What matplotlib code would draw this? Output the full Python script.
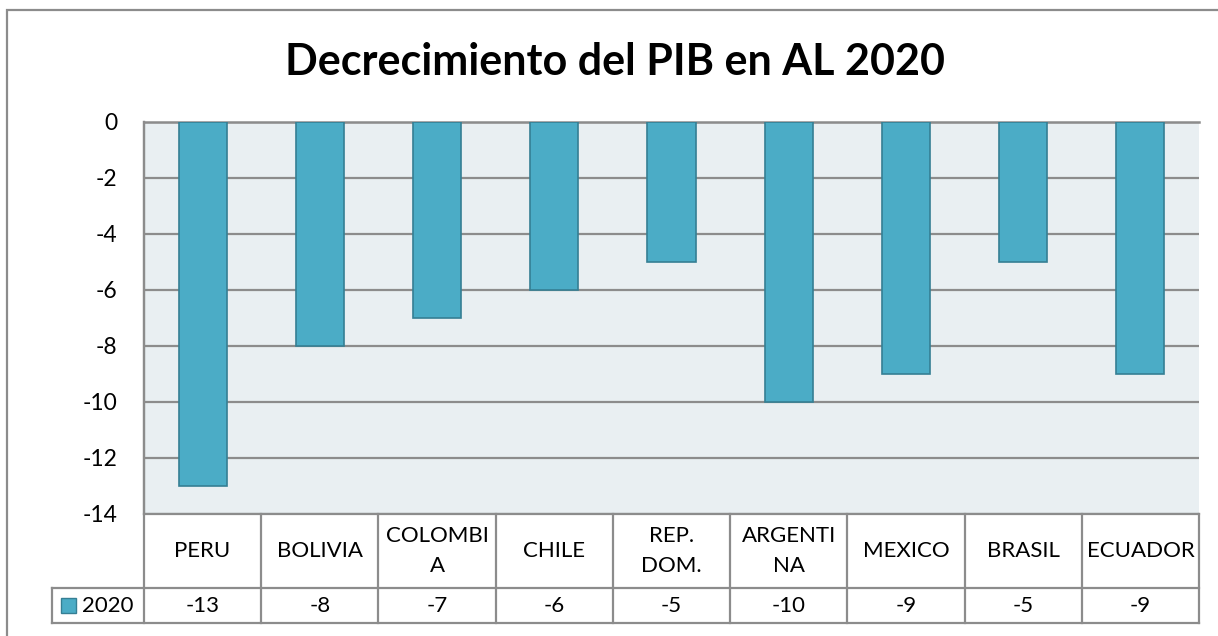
import numpy as np
import matplotlib
matplotlib.use("Agg")
import matplotlib.pyplot as plt
from matplotlib.patches import Rectangle

# data
paises = ["PERU", "BOLIVIA", "COLOMBI\nA", "CHILE", "REP.\nDOM.",
          "ARGENTI\nNA", "MEXICO", "BRASIL", "ECUADOR"]
pib_2020 = [-13, -8, -7, -6, -5, -10, -9, -5, -9]
serie = "2020"
yticks = [0, -2, -4, -6, -8, -10, -12, -14]

bar_color = "#4BACC6"
edge_color = "#357F94"
grid_color = "#8C8C8C"
bg_color = "#E9EFF2"

plt.rcParams["font.family"] = ["Lato", "DejaVu Sans"]

W, H = 1218, 636
fig = plt.figure(figsize=(W / 100, H / 100), dpi=100)

# outer chart frame (runs off the right and bottom of the picture)
fig.patches.append(Rectangle((7 / W, -0.1), 1.2, 1 - 10 / H + 0.1,
                             transform=fig.transFigure, fill=False,
                             edgecolor=grid_color, linewidth=1.6))

left, right, top, bottom = 144, 1199, 122, 514
ax = fig.add_axes([left / W, 1 - bottom / H, (right - left) / W, (bottom - top) / H])
ax.set_facecolor(bg_color)

x = np.arange(len(paises))
ax.bar(x, pib_2020, width=0.41, color=bar_color, edgecolor=edge_color,
       linewidth=1.2, zorder=3)

ax.set_xlim(-0.5, len(paises) - 0.5)
ax.set_ylim(-14, 0)
ax.set_yticks(yticks)
ax.set_yticklabels([str(v) for v in yticks], fontsize=16.5)
ax.set_xticks([])
ax.tick_params(axis="y", length=0, pad=19)
ax.yaxis.grid(True, color=grid_color, linewidth=1.6, zorder=1)
ax.set_axisbelow(True)
for s in ["right", "bottom"]:
    ax.spines[s].set_visible(False)
ax.spines["top"].set_color(grid_color)
ax.spines["top"].set_linewidth(1.8)
ax.spines["left"].set_color(grid_color)
ax.spines["left"].set_linewidth(1.6)

fig.text(615 / W, 1 - 62 / H, "Decrecimiento del PIB en AL 2020",
         ha="center", va="center", fontsize=31, fontweight="bold")

# data table below the plot area (units: 28 px per y unit)
px = 1 / 28.0
h1 = 74 * px      # header row height
h2 = 35 * px      # data row height
y0 = -14
y1 = y0 - h1
y2 = y1 - h2
xl = -0.5 - (left - 52) / ((right - left) / len(paises))
xr = len(paises) - 0.5
lk = dict(color=grid_color, linewidth=1.6, clip_on=False, zorder=5)

ax.plot([-0.5, xr], [y0, y0], **lk)
ax.plot([xl, xr], [y1, y1], **lk)
ax.plot([xl, xr], [y2, y2], **lk)
ax.plot([-0.5, -0.5], [0, y2], **lk)
ax.plot([xl, xl], [y1, y2], **lk)
for b in np.arange(0.5, len(paises), 1.0):
    ax.plot([b, b], [y0, y2], **lk)

for i, (p, v) in enumerate(zip(paises, pib_2020)):
    ax.text(i, (y0 + y1) / 2, p, ha="center", va="center", fontsize=16,
            linespacing=1.65, clip_on=False)
    ax.text(i, (y1 + y2) / 2, str(v), ha="center", va="center",
            fontsize=16, clip_on=False)

# legend key in the table
ax.add_patch(Rectangle((xl + 0.08, (y1 + y2) / 2 - 0.27), 0.125, 0.54,
                       facecolor=bar_color, edgecolor=edge_color,
                       linewidth=1.0, clip_on=False, zorder=6))
ax.text(xl + 0.26, (y1 + y2) / 2, serie, ha="left", va="center",
        fontsize=16, clip_on=False)

fig.savefig("out.png", dpi=100)
